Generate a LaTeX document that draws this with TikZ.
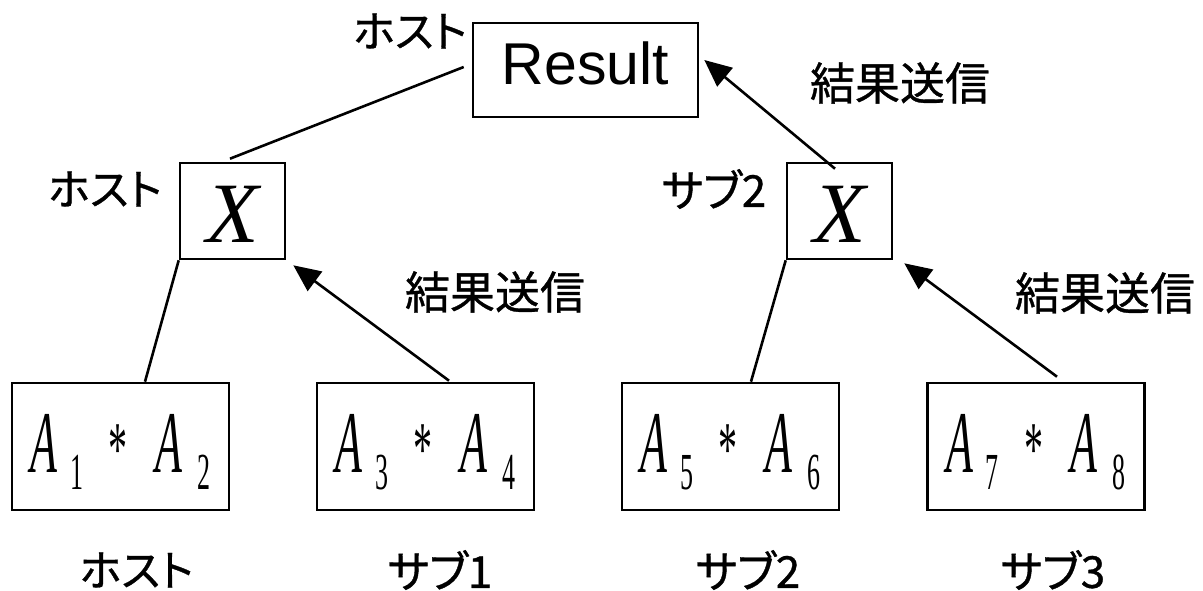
\documentclass[tikz,border=0pt]{standalone}
\usepackage{graphicx}
\usepackage{fontspec}
\setmainfont{Liberation Serif}
\newfontfamily\jp[RawFeature=+palt,FakeBold=0.8]{Noto Sans CJK JP}
\newfontfamily\arialf{Liberation Sans}
\usetikzlibrary{arrows.meta,calc}
\newcommand\prodAB[2]{\scalebox{0.5}[1]{\fontsize{88}{88}\selectfont\itshape A\hspace{25pt}\raisebox{-17pt}{\fontsize{52}{52}\selectfont\upshape #1}\hspace{51pt}\raisebox{-2pt}{\fontsize{76}{76}\selectfont\upshape *}\hspace{55pt}A\hspace{30pt}\raisebox{-17pt}{\fontsize{52}{52}\selectfont\upshape #2}}}
\tikzset{
  boxn/.style={draw, line width=2.6pt, inner sep=0pt},
  resbox/.style={boxn, minimum width=225pt, minimum height=94pt, font=\arialf\fontsize{59}{59}\selectfont, text height=42pt, text depth=12pt},
  xbox/.style={boxn, minimum width=105pt, minimum height=96pt, font=\fontsize{86}{86}\selectfont\itshape, text height=64pt, text depth=0pt},
  pbox/.style={boxn, minimum width=217pt, minimum height=127pt, text height=60pt, text depth=9pt},
  lblh/.style={inner sep=0pt, font=\jp\fontsize{43}{43}\selectfont},
  lbls/.style={inner sep=0pt, font=\jp\fontsize{44}{44}\selectfont},
  lblk/.style={inner sep=0pt, font=\jp\fontsize{45}{45}\selectfont},
  conn/.style={line width=2.6pt},
  arr/.style={conn, -{Triangle[length=27pt,width=24pt]}}
}
\begin{document}
\begin{tikzpicture}[x=1pt,y=-1pt]
\useasboundingbox (0,0) rectangle (1203,591);
% boxes
\node[resbox] (R) at (585.5,70) {Result};
\node[xbox] (X1) at (232.5,211) {X};
\node[xbox] (X2) at (839.5,211) {X};
\node[pbox] (P1) at (120.5,446.5) {\prodAB{1}{2}};
\node[pbox] (P2) at (425.5,446.5) {\prodAB{3}{4}};
\node[pbox] (P3) at (730.5,446.5) {\prodAB{5}{6}};
\node[pbox] (P4) at (1036,446.5) {\prodAB{7}{8}};
% labels
\node[lblh] (lR) at (410,31) {ホスト};
\node[lblh] (lX1) at (105,189) {ホスト};
\node[lbls] (lX2) at (714,189) {サブ2};
\node[lblk] (k1) at (900,83) {結果送信};
\node[lblk] (k2) at (495,292) {結果送信};
\node[lblk] (k3) at (1105,293) {結果送信};
\node[lblh] (b1) at (136.5,570) {ホスト};
\node[lbls] (b2) at (440,570) {サブ1};
\node[lbls] (b3) at (748,570) {サブ2};
\node[lbls] (b4) at (1053,570) {サブ3};
% connectors
\draw[conn] ($(R.west)+(-8,-3)$) -- ($(X1.north)+(-2.5,-3)$);
\draw[conn] (X1.south west) -- ($(P1.north)+(24.5,0)$);
\draw[arr] ($(P2.north)+(23.5,-1)$) -- ($(X1.south east)+(7,5)$);
\draw[conn] (X2.south west) -- ($(P3.north)+(20.5,0)$);
\draw[arr] ($(P4.north)+(21,-5)$) -- ($(X2.south east)+(11,3)$);
\draw[arr] ($(X2.north)+(-4.5,7)$) -- ($(R.east)+(5,-10)$);
\end{tikzpicture}
\end{document}
